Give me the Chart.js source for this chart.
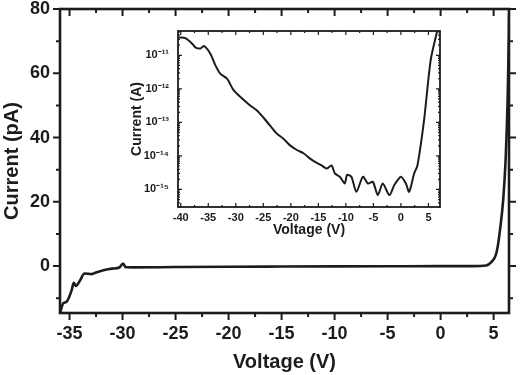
<!DOCTYPE html>
<html lang="en">
<head>
    <meta charset="UTF-8">
    <title>Current vs Voltage</title>
    <script src="https://cdn.jsdelivr.net/npm/chart.js"></script>
    <style>
        body {
            margin: 0;
            padding: 0;
            background-color: #fff;
        }

        .wrap {
            position: relative;
            width: 521px;
            height: 375px;
        }

        #mainChart {
            position: absolute;
            left: 0;
            top: 0;
        }

        #insetChart {
            position: absolute;
            left: 120px;
            top: 24px;
        }
    </style>
</head>
<body>
<div class="wrap">
    <canvas id="mainChart" width="521" height="375"></canvas>
    <canvas id="insetChart" width="325" height="218"></canvas>
</div>

<script>
    // Main plot: linear current (pA) vs voltage (V)
    const mainV = [-35.9, -35.6, -35.28, -34.8, -34.6, -34.4, -34.0, -33.6, -32.9, -32.5, -31.8, -31.0,
        -30.3, -29.95, -29.7, -29, -25, -20, -15, -10, -5, 0, 3, 4.3, 4.8, 5.2, 5.43, 5.6, 5.9, 6.13, 6.32, 6.44, 6.48];
    const mainI = [-14.6, -11.6, -11.1, -7.5, -5.2, -6.2, -4.4, -2.3, -2.5, -2.0, -1.3, -0.8,
        -0.45, 0.8, -0.35, -0.4, -0.3, -0.2, -0.15, -0.1, -0.05, 0, 0, 0.2, 1.3, 3.4, 7.0, 11.2, 20.5, 33, 51.6, 72.4, 80];
    const mainXTicks = [-35, -30, -25, -20, -15, -10, -5, 0, 5];
    const mainYTicks = [0, 20, 40, 60, 80];

    // Inset: log current (A) vs voltage (V)
    const insetV = [-40.35, -39.1, -37.9, -37.3, -36.4, -35.8, -34.6, -33.7, -32.8, -31.6, -30.4, -29.2,
        -27.4, -26.2, -25.0, -23.8, -22.6, -21.4, -20.2, -18.9, -17.7, -16.5, -15.6, -14.4, -13.5, -12.6,
        -12.0, -11.1, -10.2, -9.8, -9.0, -8.1, -6.9, -6.0, -5.1, -4.2, -3.3, -2.1, -1.2, 0.0, 0.9, 1.5,
        2.4, 3.0, 4.2, 5.4, 6.6];
    const insetI = [3.4e-11, 3.2e-11, 2.2e-11, 1.7e-11, 1.6e-11, 1.9e-11, 1.1e-11, 5.0e-12, 2.8e-12, 2.0e-12, 9.1e-13, 5.8e-13,
        3.2e-13, 2.3e-13, 1.4e-13, 8.1e-14, 4.7e-14, 3.3e-14, 2.1e-14, 1.5e-14, 1.2e-14, 8.3e-15, 6.6e-15, 5.2e-15, 4.2e-15, 5.2e-15,
        3.0e-15, 2.4e-15, 1.5e-15, 2.7e-15, 2.4e-15, 8.5e-16, 2.4e-15, 1.5e-15, 1.7e-15, 6.8e-16, 1.5e-15, 6.8e-16, 1.35e-15, 2.4e-15, 1.5e-15, 8.5e-16,
        3.0e-15, 5.2e-15, 1.15e-13, 7.1e-12, 5.4e-11];
    const insetXTicks = [-40, -35, -30, -25, -20, -15, -10, -5, 0, 5];
    const insetYTicks = [1e-15, 1e-14, 1e-13, 1e-12, 1e-11];

    const FONT = "'Liberation Sans', Arial, sans-serif";
    const INK = '#1c1c1c';
    const SUP = {'-': '\u207B', '0': '\u2070', '1': '\u00B9', '2': '\u00B2', '3': '\u00B3', '4': '\u2074',
        '5': '\u2075', '6': '\u2076', '7': '\u2077', '8': '\u2078', '9': '\u2079'};

    // force exact axis box sizes, no automatic label padding
    function fixSize(prop, size) {
        return function (scale) {
            scale[prop] = size;
            scale.paddingTop = 0;
            scale.paddingBottom = 0;
            scale.paddingLeft = 0;
            scale.paddingRight = 0;
        };
    }

    function setTicks(values) {
        return function (scale) {
            scale.ticks = values.map(v => ({value: v}));
        };
    }

    // frame + tick marks drawn from the chart's own scales
    function frameTicks(spec) {
        return {
            id: 'frameTicks',
            afterDraw(chart) {
                const ctx = chart.ctx;
                const a = chart.chartArea;
                const xs = chart.scales.x, ys = chart.scales.y;
                ctx.save();
                ctx.strokeStyle = INK;
                ctx.lineWidth = spec.tickWidth;
                ctx.beginPath();
                spec.xTicks().forEach(t => {
                    const px = xs.getPixelForValue(t.v);
                    if (px < a.left - 0.5 || px > a.right + 0.5) return;
                    const len = t.major ? spec.major : spec.minor;
                    ctx.moveTo(px, a.bottom);
                    ctx.lineTo(px, a.bottom + spec.bottomDir * len);
                    ctx.moveTo(px, a.top);
                    ctx.lineTo(px, a.top + spec.topDir * len);
                });
                spec.yTicks().forEach(t => {
                    const py = ys.getPixelForValue(t.v);
                    if (py < a.top - 0.5 || py > a.bottom + 0.5) return;
                    const len = t.major ? spec.major : spec.minor;
                    ctx.moveTo(a.left, py);
                    ctx.lineTo(a.left + spec.leftDir * len, py);
                    ctx.moveTo(a.right, py);
                    ctx.lineTo(a.right + spec.rightDir * len, py);
                });
                ctx.stroke();
                ctx.lineWidth = spec.frameWidth;
                ctx.strokeRect(a.left, a.top, a.right - a.left, a.bottom - a.top);
                ctx.restore();
            }
        };
    }

    function withMinor(majors, half) {
        const out = [];
        majors.forEach(v => {
            out.push({v: v, major: true});
            out.push({v: v - half, major: false});
        });
        out.push({v: majors[majors.length - 1] + half, major: false});
        return out;
    }

    function logTicks(decades) {
        const out = [];
        decades.forEach(d => {
            out.push({v: d, major: true});
            for (let k = 2; k <= 9; k++) out.push({v: d * k, major: false});
            for (let k = 2; k <= 9; k++) out.push({v: d * k / 10, major: false});
        });
        return out;
    }

    // main chart
    new Chart(document.getElementById('mainChart'), {
        type: 'line',
        data: {
            datasets: [{
                data: mainV.map((v, i) => ({x: v, y: mainI[i]})),
                borderColor: INK,
                borderWidth: 2.6,
                pointRadius: 0,
                cubicInterpolationMode: 'monotone',
                fill: false
            }]
        },
        options: {
            responsive: false,
            animation: false,
            layout: {padding: {top: 9, right: 12, left: 0, bottom: 0}},
            plugins: {legend: {display: false}, tooltip: {enabled: false}},
            scales: {
                x: {
                    type: 'linear',
                    min: -35.9,
                    max: 6.45,
                    afterBuildTicks: setTicks(mainXTicks),
                    afterFit: fixSize('height', 62),
                    grid: {display: false, drawTicks: false},
                    border: {display: false},
                    ticks: {padding: 10, color: INK, font: {family: FONT, size: 18, weight: 'bold'}},
                    title: {display: true, text: 'Voltage (V)', color: INK, padding: {top: 0, bottom: 1},
                        font: {family: FONT, size: 20, weight: 'bold'}}
                },
                y: {
                    type: 'linear',
                    min: -14.6,
                    max: 80,
                    afterBuildTicks: setTicks(mainYTicks),
                    afterFit: fixSize('width', 60),
                    grid: {display: false, drawTicks: false},
                    border: {display: false},
                    ticks: {padding: 10, color: INK, font: {family: FONT, size: 18, weight: 'bold'}},
                    title: {display: true, text: 'Current (pA)', color: INK, padding: {top: 0, bottom: 0},
                        font: {family: FONT, size: 20, weight: 'bold'}}
                }
            }
        },
        plugins: [frameTicks({
            tickWidth: 2, frameWidth: 2.6, major: 7, minor: 4,
            bottomDir: 1, topDir: 1, leftDir: -1, rightDir: 1,
            xTicks: () => withMinor(mainXTicks, 2.5),
            yTicks: () => withMinor(mainYTicks, 10)
        })]
    });

    // inset chart
    new Chart(document.getElementById('insetChart'), {
        type: 'line',
        data: {
            datasets: [{
                data: insetV.map((v, i) => ({x: v, y: insetI[i]})),
                borderColor: INK,
                borderWidth: 2,
                pointRadius: 0,
                tension: 0.25,
                fill: false
            }]
        },
        options: {
            responsive: false,
            animation: false,
            layout: {padding: {top: 7, right: 5, left: 0, bottom: 0}},
            plugins: {legend: {display: false}, tooltip: {enabled: false}},
            scales: {
                x: {
                    type: 'linear',
                    min: -40.5,
                    max: 7.1,
                    afterBuildTicks: setTicks(insetXTicks),
                    afterFit: fixSize('height', 35),
                    grid: {display: false, drawTicks: false},
                    border: {display: false},
                    ticks: {padding: 4, color: INK, font: {family: FONT, size: 11, weight: 'bold'}},
                    title: {display: true, text: 'Voltage (V)', color: INK, padding: {top: 0, bottom: 3},
                        font: {family: FONT, size: 14, weight: 'bold'}}
                },
                y: {
                    type: 'logarithmic',
                    min: 3e-16,
                    max: 5.3e-11,
                    afterBuildTicks: setTicks(insetYTicks),
                    afterFit: fixSize('width', 58),
                    grid: {display: false, drawTicks: false},
                    border: {display: false},
                    ticks: {
                        padding: 9, color: INK, font: {family: FONT, size: 11, weight: 'bold'},
                        callback: v => '10' + String(Math.round(Math.log10(v))).split('').map(c => SUP[c]).join('')
                    },
                    title: {display: true, text: 'Current (A)', color: INK, padding: {top: 9, bottom: 0},
                        font: {family: FONT, size: 14, weight: 'bold'}}
                }
            }
        },
        plugins: [frameTicks({
            tickWidth: 1.2, frameWidth: 1.8, major: 4, minor: 2,
            bottomDir: -1, topDir: 1, leftDir: 1, rightDir: -1,
            xTicks: () => withMinor(insetXTicks, 2.5),
            yTicks: () => logTicks(insetYTicks.concat([1e-10]))
        })]
    });
</script>
</body>
</html>
